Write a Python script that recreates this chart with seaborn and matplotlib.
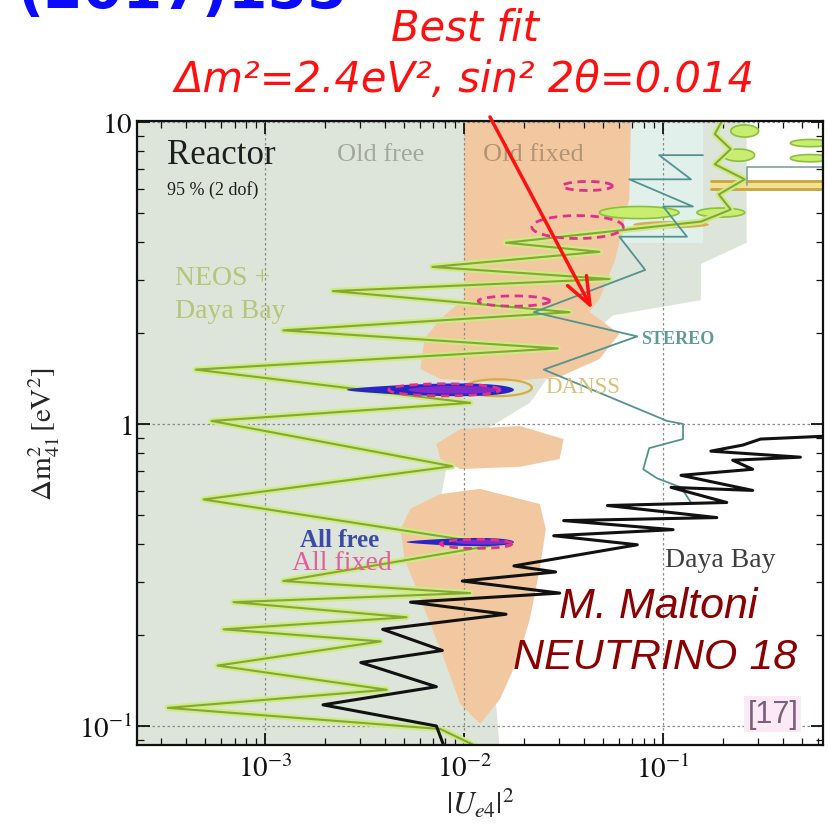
import numpy as np
import matplotlib
matplotlib.use("Agg")
import matplotlib.pyplot as plt
import seaborn as sns

# ---------------------------------------------------------------------------
# Contours, all in log10 units: (log10 |U_e4|^2 , log10 dm^2_41 / eV^2)
# ---------------------------------------------------------------------------
neos_log_u = [-1.93, -2.12, -3.49, -2.39, -3.24, -2.42, -3.21, -2.29, -3.16, -1.97,
              -2.91, -1.84, -3.31, -2.06, -3.27, -1.97, -3.35, -1.53, -2.91, -1.47,
              -2.66, -1.27, -2.16, -1.32, -1.79, -0.81, -0.66, -0.72, -0.59, -0.74,
              -0.66, -0.74, -0.69]
neos_log_dm = [-1.07, -1.01, -0.94, -0.88, -0.80, -0.72, -0.68, -0.64, -0.59, -0.56,
               -0.52, -0.40, -0.25, -0.14, 0.01, 0.07, 0.18, 0.25, 0.31, 0.37,
               0.44, 0.48, 0.52, 0.57, 0.60, 0.67, 0.71, 0.76, 0.81, 0.86,
               0.91, 0.96, 1.02]

dayabay_log_u = [-2.10, -2.14, -2.71, -2.14, -2.52, -2.11, -2.41, -1.79, -2.27, -1.52,
                 -2.01, -1.54, -1.75, -1.13, -1.55, -0.95, -1.50, -0.73, -1.28, -0.68,
                 -0.96, -0.55, -0.91, -0.55, -0.65, -0.31, -0.76, -0.60, -0.51, -0.17]
dayabay_log_dm = [-1.07, -1.00, -0.93, -0.87, -0.79, -0.75, -0.68, -0.63, -0.59, -0.56,
                  -0.52, -0.49, -0.47, -0.40, -0.37, -0.35, -0.32, -0.31, -0.27, -0.26,
                  -0.21, -0.22, -0.17, -0.15, -0.12, -0.11, -0.09, -0.07, -0.05, -0.04]

stereo_log_u = [-0.80, -1.02, -0.86, -1.17, -0.85, -1.00, -0.88, -1.22, -1.09, -1.65,
                -1.13, -1.60, -0.98, -0.90, -0.90, -1.07, -1.10, -1.03, -0.91, -0.86]
stereo_log_dm = [0.89, 0.89, 0.81, 0.81, 0.72, 0.72, 0.62, 0.62, 0.51, 0.37,
                 0.29, 0.18, 0.01, 0.00, -0.05, -0.08, -0.15, -0.18, -0.21, -0.26]
stereo_edge_log_u = [-0.58, -0.58, -0.17]
stereo_edge_log_dm = [0.79, 0.85, 0.85]

# Old free region (grey) and Old fixed region (peach)
old_free_log_u = [-3.7, -0.58, -0.58, -0.81, -0.81, -1.25, -1.52, -1.67, -1.97, -2.09,
                  -2.12, -1.97, -1.87, -1.82, -3.7]
old_free_log_dm = [1.05, 1.05, 0.60, 0.53, 0.41, 0.36, 0.21, 0.07, -0.05, -0.15,
                   -0.25, -0.45, -0.65, -1.10, -1.10]
tint_log_u = [-1.20, -0.80, -0.80, -1.20]
tint_log_dm = [1.05, 1.05, 0.60, 0.60]

old_fixed_a_log_u = [-2.00, -1.16, -1.17, -1.24, -1.32, -1.37, -1.22, -1.32, -1.52, -1.82,
                     -2.12, -2.22, -2.20, -2.12, -2.00]
old_fixed_a_log_dm = [1.05, 1.05, 0.745, 0.546, 0.414, 0.371, 0.298, 0.215, 0.156, 0.139,
                      0.149, 0.182, 0.281, 0.348, 0.414]
old_fixed_b_log_u = [-2.14, -2.02, -1.72, -1.50, -1.52, -1.72, -2.02, -2.12]
old_fixed_b_log_dm = [-0.066, -0.017, -0.007, -0.05, -0.116, -0.142, -0.149, -0.116]
old_fixed_c_log_u = [-2.27, -2.12, -1.92, -1.62, -1.59, -1.62, -1.67, -1.73, -1.82, -1.92,
                     -2.02, -2.12, -2.22, -2.30, -2.32]
old_fixed_c_log_dm = [-0.281, -0.232, -0.215, -0.265, -0.348, -0.480, -0.646, -0.778, -0.911, -0.993,
                      -0.927, -0.745, -0.579, -0.447, -0.348]

# Global-fit islands: centre (log u, log dm) and half sizes in decades
all_free_cu = [-2.17, -2.02]
all_free_cdm = [0.113, -0.391]
all_free_hu = [0.42, 0.27]
all_free_hdm = [0.028, 0.018]

all_fixed_cu = [-1.38, -1.43, -1.75, -2.10, -1.94]
all_fixed_cdm = [0.788, 0.652, 0.407, 0.113, -0.397]
all_fixed_hu = [0.125, 0.23, 0.18, 0.28, 0.18]
all_fixed_hdm = [0.015, 0.038, 0.017, 0.02, 0.015]

neos_island_cu = [-0.59, -0.62, -0.26, -0.26, -0.71, -1.12]
neos_island_cdm = [0.97, 0.89, 0.93, 0.88, 0.70, 0.70]
neos_island_hu = [0.07, 0.08, 0.10, 0.10, 0.12, 0.20]
neos_island_hdm = [0.02, 0.02, 0.012, 0.012, 0.015, 0.02]

danss_band_log_u = [-0.76, -0.17]
danss_band_lo = 0.777
danss_band_hi = 0.803
danss_blob = (-0.96, 0.66, 0.19, 0.012)
danss_ring = (-1.83, 0.12, 0.17, 0.028)

best_fit_dm2 = 2.4
best_fit_u = 0.044

x_ticks = [1e-3, 1e-2, 1e-1]
x_tick_labels = [r"$10^{-3}$", r"$10^{-2}$", r"$10^{-1}$"]
y_ticks = [0.1, 1, 10]
y_tick_labels = [r"$10^{-1}$", r"$1$", r"$10$"]

# ---------------------------------------------------------------------------
sns.set_theme(style="ticks")
plt.rcParams["font.family"] = ["Liberation Serif", "DejaVu Serif"]
plt.rcParams["mathtext.fontset"] = "stix"


def p(v):
    return 10 ** np.asarray(v, dtype=float)


def ellipse(cu, cdm, hu, hdm, taper=0.0, n=160):
    t = np.linspace(0, 2 * np.pi, n)
    shape = 1 - taper * (1 - np.cos(t)) / 2
    return p(cu + hu * np.cos(t)), p(cdm + hdm * np.sin(t) * shape)


fig = plt.figure(figsize=(8.29, 8.29), dpi=100)
ax = fig.add_axes([0.1653, 0.1001, 0.8275, 0.7527])
ax.set_xscale("log")
ax.set_yscale("log")
ax.set_xlim(10 ** -3.645, 10 ** -0.196)
ax.set_ylim(10 ** -1.063, 10 ** 1.003)
ax.set_facecolor("white")

# shaded regions
ax.fill(p(old_free_log_u), p(old_free_log_dm), color="#dde4d9", lw=0, zorder=0.5)
ax.fill(p(tint_log_u), p(tint_log_dm), color="#e2f0ec", lw=0, zorder=0.6)
for xs, ys in [(old_fixed_a_log_u, old_fixed_a_log_dm),
               (old_fixed_b_log_u, old_fixed_b_log_dm),
               (old_fixed_c_log_u, old_fixed_c_log_dm)]:
    ax.fill(p(xs), p(ys), color="#f2c8a0", lw=0, zorder=0.7)

# grid
ax.set_axisbelow("line")
ax.grid(True, which="major", ls=(0, (2, 2)), color="#8c8c8c", lw=0.9)

# NEOS islands at large dm^2
for cu, cdm, hu, hdm in zip(neos_island_cu, neos_island_cdm, neos_island_hu, neos_island_hdm):
    ex, ey = ellipse(cu, cdm, hu, hdm)
    ax.fill(ex, ey, color="#c8ee70", ec="#8cbf3c", lw=1.2, zorder=2)

# DANSS
ax.fill_between(p(danss_band_log_u), 10 ** danss_band_lo, 10 ** danss_band_hi,
                color="#f3df96", zorder=2.1)
for lvl in (danss_band_lo, danss_band_hi):
    sns.lineplot(x=p(danss_band_log_u), y=[10 ** lvl] * 2, color="#c9a638", linewidth=2,
                 ax=ax, legend=False, zorder=2.2)
bx, by = ellipse(*danss_blob)
ax.fill(bx, by, color="#d2a73a", lw=0, alpha=0.9, zorder=2.2)

# NEOS + Daya Bay
neos_x, neos_y = p(neos_log_u), p(neos_log_dm)
sns.lineplot(x=neos_x, y=neos_y, sort=False, estimator=None, color="#cdec82",
             linewidth=4.5, ax=ax, legend=False, zorder=3)
sns.lineplot(x=neos_x, y=neos_y, sort=False, estimator=None, color="#86a636",
             linewidth=1.5, ax=ax, legend=False, zorder=3.1)

rx, ry = ellipse(*danss_ring)
sns.lineplot(x=rx, y=ry, sort=False, estimator=None, color="#d6ae3c", linewidth=1.6,
             ax=ax, legend=False, zorder=3.2)

# STEREO
sns.lineplot(x=p(stereo_log_u), y=p(stereo_log_dm), sort=False, estimator=None,
             color="#4f948e", linewidth=1.3, ax=ax, legend=False, zorder=3.3)
sns.lineplot(x=p(stereo_edge_log_u), y=p(stereo_edge_log_dm), sort=False, estimator=None,
             color="#7fa39c", linewidth=1.2, ax=ax, legend=False, zorder=3.3)

# Daya Bay
sns.lineplot(x=p(dayabay_log_u), y=p(dayabay_log_dm), sort=False, estimator=None,
             color="#111111", linewidth=2.2, ax=ax, legend=False, zorder=3.5)

# All free (filled) and All fixed (dashed)
for cu, cdm, hu, hdm in zip(all_free_cu, all_free_cdm, all_free_hu, all_free_hdm):
    ex, ey = ellipse(cu, cdm, hu, hdm, taper=0.6)
    ax.fill(ex, ey, color="#2626c8", lw=0, zorder=4)
    ix, iy = ellipse(cu + 0.12, cdm, hu * 0.55, hdm * 0.45)
    ax.fill(ix, iy, color="#9a2cc8", lw=0, alpha=0.8, zorder=4.1)
for cu, cdm, hu, hdm in zip(all_fixed_cu, all_fixed_cdm, all_fixed_hu, all_fixed_hdm):
    ex, ey = ellipse(cu, cdm, hu, hdm)
    ax.plot(ex, ey, color="#e0308c", lw=2.0, ls=(0, (3, 2)), zorder=4.2)

# axes styling
ax.set_xticks(x_ticks)
ax.set_xticklabels(x_tick_labels)
ax.set_yticks(y_ticks)
ax.set_yticklabels(y_tick_labels)
ax.tick_params(which="both", direction="in", top=True, right=True, colors="#111111",
               labelsize=21)
ax.tick_params(which="major", length=9, width=1.3)
ax.tick_params(which="minor", length=5, width=0.9)
ax.tick_params(axis="x", pad=7)
for s in ax.spines.values():
    s.set_color("#111111")
    s.set_linewidth(1.6)
    s.set_zorder(6)
ax.set_xlabel(r"$|U_{e4}|^2$", fontsize=22, labelpad=2)
ax.set_ylabel(r"$\Delta \mathrm{m}^2_{41}\,[\mathrm{eV}^2]$", fontsize=21, labelpad=12)

# labels inside the panel
T = ax.transAxes
ax.text(0.044, 0.947, "Reactor", transform=T, fontsize=25, color="#1e1e1e", va="center", zorder=7)
ax.text(0.044, 0.891, "95 % (2 dof)", transform=T, fontsize=13, color="#1e1e1e", va="center", zorder=7)
ax.text(0.292, 0.947, "Old free", transform=T, fontsize=19, color="#a3a89f", va="center", zorder=7)
ax.text(0.504, 0.947, "Old fixed", transform=T, fontsize=19, color="#b39474", va="center", zorder=7)
ax.text(0.055, 0.750, "NEOS +", transform=T, fontsize=20, color="#b5c57a", va="center", zorder=7)
ax.text(0.055, 0.696, "Daya Bay", transform=T, fontsize=20, color="#b5c57a", va="center", zorder=7)
ax.text(0.735, 0.652, "STEREO", transform=T, fontsize=13, fontweight="bold", color="#5d9c96",
        va="center", zorder=7)
ax.text(0.595, 0.574, "DANSS", transform=T, fontsize=16.5, color="#d8c27a", va="center", zorder=7)
ax.text(0.238, 0.329, "All free", transform=T, fontsize=18, fontweight="bold", color="#3b4aa6",
        va="center", zorder=7)
ax.text(0.226, 0.293, "All fixed", transform=T, fontsize=20, color="#e0609c", va="center", zorder=7)
ax.text(0.770, 0.298, "Daya Bay", transform=T, fontsize=20, color="#3d3d3d", va="center", zorder=7)
ax.text(0.759, 0.223, "M. Maltoni", transform=T, fontsize=31, style="italic", color="#8b0000",
        family="Liberation Sans", ha="center", va="center", zorder=7)
ax.text(0.755, 0.141, "NEUTRINO 18", transform=T, fontsize=31, style="italic", color="#8b0000",
        family="Liberation Sans", ha="center", va="center", zorder=7)
ax.text(0.927, 0.050, "[17]", transform=T, fontsize=22, color="#7d5f7d", ha="center", va="center",
        family="Liberation Sans", zorder=7,
        bbox=dict(boxstyle="square,pad=0.1", fc="#fbeaf5", ec="none"))

# header text and best-fit pointer
fig.text(347 / 829, 1 - 9 / 829, "(2017)155", ha="right", va="baseline", fontsize=41,
         fontweight="bold", color="#0a0aff", family="DejaVu Sans")
fig.text(0.561, 0.966, "Best fit", ha="center", va="center", fontsize=30, style="italic",
         color="#ff1010", family="DejaVu Sans")
fig.text(0.561, 0.903, "\u0394m\u00b2=2.4eV\u00b2, sin\u00b2 2\u03b8=0.014", ha="center",
         va="center", fontsize=30, style="italic", color="#ff1010", family="DejaVu Sans")
ax.annotate("", xy=(best_fit_u, best_fit_dm2), xycoords="data",
            xytext=(490 / 829, 1 - 118 / 829), textcoords="figure fraction",
            annotation_clip=False,
            arrowprops=dict(arrowstyle="->,head_length=0.9,head_width=0.35", color="#ff1010",
                            lw=2.5, mutation_scale=22, shrinkA=0, shrinkB=0), zorder=8)

fig.savefig("out.png", dpi=100)
